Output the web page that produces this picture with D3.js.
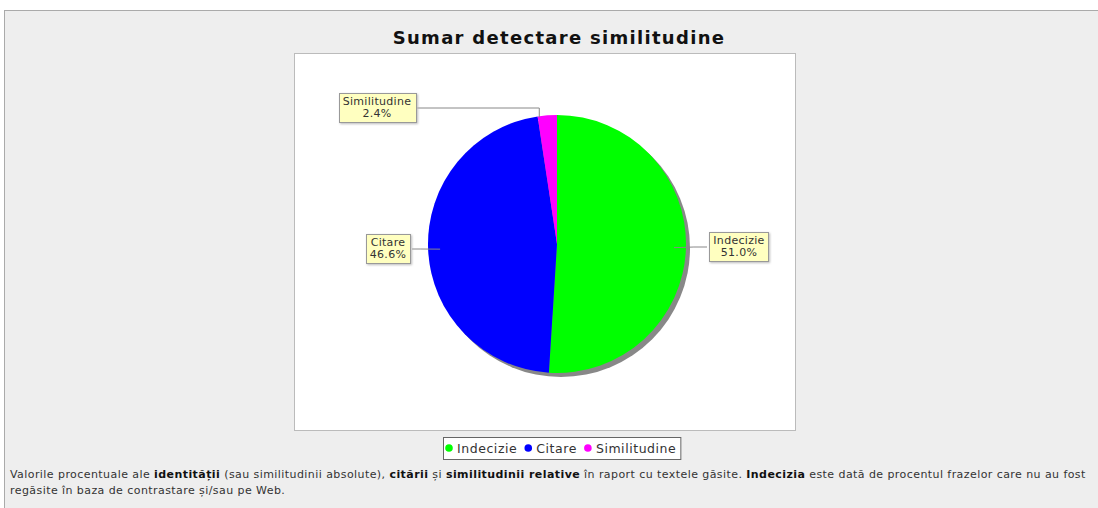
<!DOCTYPE html>
<html lang="ro">
<head>
<meta charset="UTF-8">
<title>Sumar detectare similitudine</title>
<script src="https://d3js.org/d3.v7.min.js"></script>
<style>
  body { margin: 0; background: #fff; font-family: "DejaVu Sans", sans-serif; }
</style>
</head>
<body>
<svg id="chart" width="1098" height="508"></svg>
<script>
// chart data
const categories = ["Indecizie", "Citare", "Similitudine"];
const values = [51.0, 46.6, 2.4];
const colors = ["#00ff00", "#0000ff", "#ff00ff"];

// footnote lines: [text, bold?] pieces
const noteLines = [
  [["Valorile procentuale ale ", false], ["identității", true], [" (sau similitudinii absolute), ", false], ["citării", true],
   [" și ", false], ["similitudinii relative", true], [" în raport cu textele găsite. ", false], ["Indecizia", true],
   [" este dată de procentul frazelor care nu au fost", false]],
  [["regăsite în baza de contrastare și/sau pe Web.", false]]
];

const svg = d3.select("#chart");

// outer panel
svg.append("rect").attr("x", 4.5).attr("y", 10.5).attr("width", 1100).attr("height", 510)
  .attr("fill", "#eeeeee").attr("stroke", "#aaaaaa");

svg.append("text").attr("x", 559).attr("y", 44).attr("text-anchor", "middle")
  .attr("font-family", "DejaVu Sans, sans-serif").attr("font-weight", "bold").attr("font-size", 18)
  .attr("letter-spacing", 1.3).attr("fill", "#111").text("Sumar detectare similitudine");

// plot area
const plot = { x: 294, y: 53, w: 501, h: 377 };
svg.append("rect").attr("x", plot.x + 0.5).attr("y", plot.y + 0.5).attr("width", plot.w).attr("height", plot.h)
  .attr("fill", "#fff").attr("stroke", "#bbbbbb");

const cx = 557, cy = 244, r = 129;
const pie = d3.pie().sort(null).value(d => d.v);
const arcs = pie(categories.map((c, i) => ({ c, v: values[i], col: colors[i] })));
const arc = d3.arc().innerRadius(0).outerRadius(r);

// shadow
svg.append("circle").attr("cx", cx + 4).attr("cy", cy + 4).attr("r", r).attr("fill", "#888");

const g = svg.append("g").attr("transform", `translate(${cx},${cy})`);
g.selectAll("path").data(arcs).join("path")
  .attr("d", arc).attr("fill", d => d.data.col);

// labels
const labelPos = {
  "Indecizie": { x: 739, y: 247, lx: 707 },
  "Citare": { x: 388, y: 249, lx: 412 },
  "Similitudine": { x: 377, y: 108, lx: 417 }
};
arcs.forEach(d => {
  const p = labelPos[d.data.c];
  const mid = (d.startAngle + d.endAngle) / 2;
  const ex = cx + Math.sin(mid) * r, ey = cy - Math.cos(mid) * r;
  const ix = cx + Math.sin(mid) * (r - 12), iy = cy - Math.cos(mid) * (r - 12);
  let pts;
  if (d.data.c === "Similitudine") pts = [[p.lx, p.y], [ex - 8, p.y], [ex - 8, ey + 2]];
  else pts = [[p.lx, p.y], [ex + (ex > cx ? 8 : -8), p.y], [ix, iy]];
  svg.append("path").attr("d", d3.line()(pts)).attr("fill", "none").attr("stroke", "#888").attr("stroke-width", 1);

  const lg = svg.append("g");
  const t1 = d.data.c, t2 = d.data.v.toFixed(1) + "%";
  const tx = lg.append("text").attr("x", p.x).attr("y", p.y - 3).attr("text-anchor", "middle")
    .attr("font-family", "DejaVu Sans, sans-serif").attr("font-size", 11).attr("letter-spacing", 0.3).attr("fill", "#333");
  tx.append("tspan").attr("x", p.x).text(t1);
  tx.append("tspan").attr("x", p.x).attr("dy", 12).text(t2);
  const bb = tx.node().getBBox();
  lg.insert("rect", "text").attr("x", Math.round(bb.x - 4) + 0.5).attr("y", Math.round(bb.y - 2) + 0.5)
    .attr("width", Math.round(bb.width + 8)).attr("height", Math.round(bb.height + 4))
    .attr("fill", "#ffffc0").attr("stroke", "#999").style("filter", "drop-shadow(1px 1px 1px #bbb)");
});

// legend
const leg = svg.append("g");
const legItems = leg.selectAll("g").data(categories).join("g");
let lx = 446;
legItems.each(function (c, i) {
  const it = d3.select(this);
  it.append("circle").attr("cx", lx + 3).attr("cy", 448).attr("r", 3.8).attr("fill", colors[i]);
  const t = it.append("text").attr("x", lx + 11).attr("y", 452.5).attr("font-family", "DejaVu Sans, sans-serif")
    .attr("font-size", 12.5).attr("letter-spacing", 0.55).attr("fill", "#333").text(c);
  lx += 11 + t.node().getBBox().width + 8;
});
leg.insert("rect", "g").attr("x", 443.5).attr("y", 437.5).attr("width", lx - 443 - 4).attr("height", 22)
  .attr("fill", "#fff").attr("stroke", "#666");

// footnote
noteLines.forEach((line, li) => {
  const t = svg.append("text").attr("x", 10).attr("y", 478 + li * 16)
    .attr("font-family", "DejaVu Sans, sans-serif").attr("font-size", 11).attr("letter-spacing", 0.43).attr("fill", "#333");
  line.forEach(([s, b]) => {
    t.append("tspan").attr("font-weight", b ? "bold" : null).attr("fill", b ? "#111" : null).text(s);
  });
});
</script>
</body>
</html>
